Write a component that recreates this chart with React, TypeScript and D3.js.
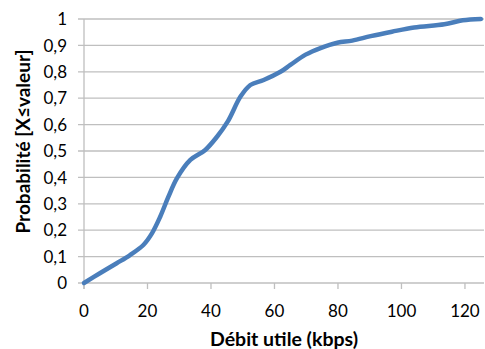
import React from "react";
import * as d3 from "d3";

const xValues = [0, 5, 10.3, 14.5, 18.7, 21.4, 24, 26.6, 29.3, 33.5, 38.2, 41.9, 45.3, 49.3, 52.4, 56.6, 61.9, 65, 69.8, 74.5, 79.8, 84.5, 90.3, 97, 104, 113.5, 119.3, 125];
const yValues = [0, 0.037, 0.075, 0.106, 0.144, 0.188, 0.251, 0.327, 0.397, 0.466, 0.504, 0.554, 0.612, 0.706, 0.75, 0.769, 0.8, 0.826, 0.865, 0.89, 0.91, 0.918, 0.935, 0.952, 0.968, 0.98, 0.995, 1.0];
const xTicks = [0, 20, 40, 60, 80, 100, 120];
const yTicks = [0, 0.1, 0.2, 0.3, 0.4, 0.5, 0.6, 0.7, 0.8, 0.9, 1];
const xTitle = "Débit utile (kbps)";
const yTitle = "Probabilité [X≤valeur]";

const W = 485, H = 349;
const left = 84, right = 484, top = 19, bottom = 283;

export default function App() {
  const x = d3.scaleLinear().domain([0, 126]).range([left, right]);
  const y = d3.scaleLinear().domain([0, 1]).range([bottom, top]);
  const pts = xValues.map((v, i) => [v, yValues[i]] as [number, number]);
  const line = d3.line<[number, number]>().x(d => x(d[0])).y(d => y(d[1])).curve(d3.curveCatmullRom.alpha(0.5));
  const font = "Lato, 'Open Sans', sans-serif";
  const fmt = (v: number) => String(Math.round(v * 10) / 10).replace(".", ",");
  return (
    <svg width={W} height={H} style={{ position: "absolute", left: 0, top: 0, background: "#fff" }}>
      {yTicks.map(t => (
        <g key={"y" + t}>
          <line x1={left - 6} x2={right} y1={y(t)} y2={y(t)} stroke="#bfbfbf" strokeWidth={1.3} />
          <text x={67} y={y(t)} dy="0.36em" textAnchor="end" fontFamily={font} fontSize={17} fill="#000">{fmt(t)}</text>
        </g>
      ))}
      <line x1={left} x2={left} y1={top} y2={bottom + 6} stroke="#bfbfbf" strokeWidth={1.3} />
      {xTicks.map(t => (
        <g key={"x" + t}>
          <line x1={x(t)} x2={x(t)} y1={bottom} y2={bottom + 6} stroke="#bfbfbf" strokeWidth={1.3} />
          <text x={x(t)} y={317} textAnchor="middle" fontFamily={font} fontSize={17} fill="#000">{t}</text>
        </g>
      ))}
      <path d={line(pts) || ""} fill="none" stroke="#4a7ebb" strokeWidth={4.5} strokeLinecap="round" strokeLinejoin="round" />
      <text x={284} y={346} textAnchor="middle" fontFamily={font} fontSize={19.5} fontWeight="bold" fill="#000">{xTitle}</text>
      <text transform={`translate(30,141.5) rotate(-90)`} textAnchor="middle" fontFamily={font} fontSize={19} fontWeight="bold" fill="#000">{yTitle}</text>
    </svg>
  );
}
